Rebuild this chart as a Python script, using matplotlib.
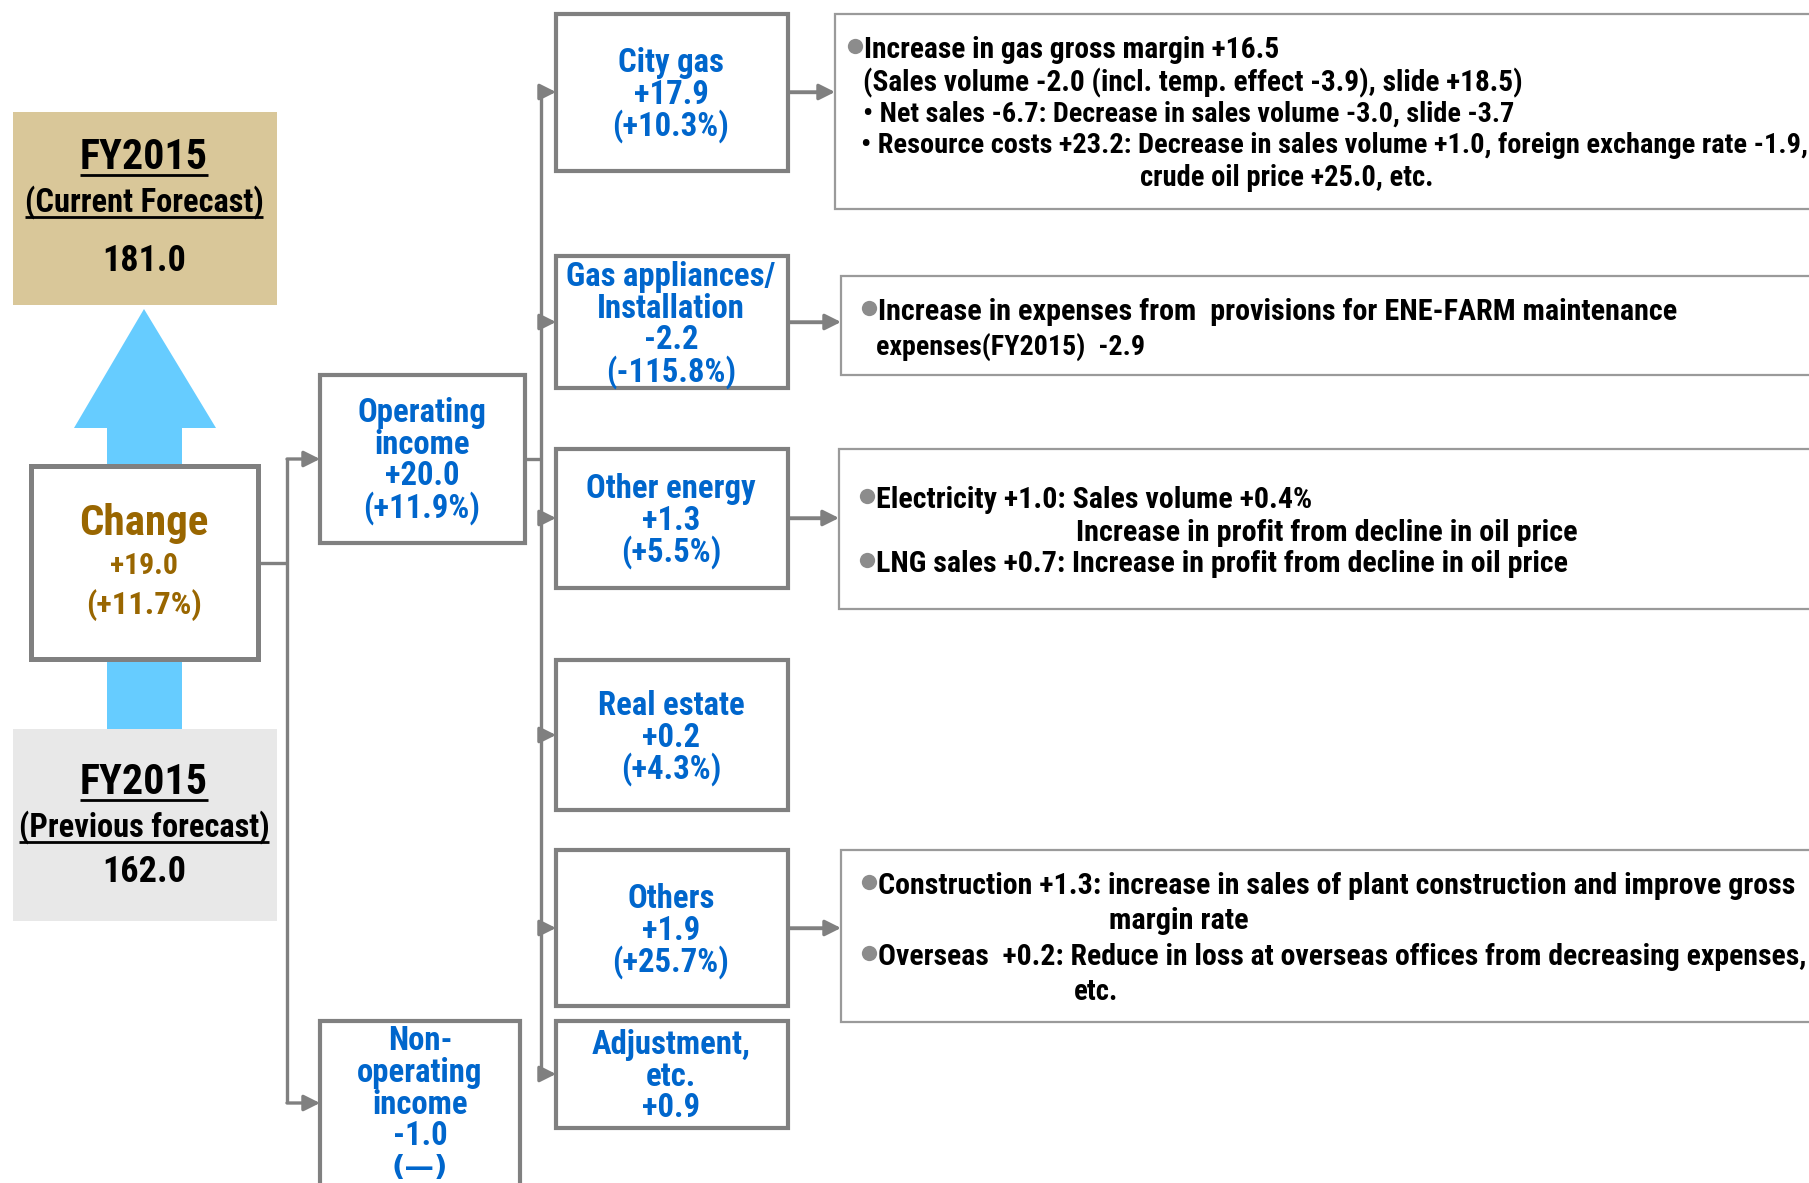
import matplotlib
matplotlib.use('Agg')
import matplotlib.pyplot as plt
from matplotlib import font_manager as fm
from matplotlib.patches import Rectangle, Polygon

avail = {f.name for f in fm.fontManager.ttflist}
FONT = next((n for n in ['Liberation Sans Narrow', 'Roboto Condensed', 'Open Sans Condensed',
                         'Noto Sans Condensed', 'Lato'] if n in avail), 'DejaVu Sans')

# ---------------- data ----------------
current_title = "FY2015"
current_sub = "(Current Forecast)"
current_value = "181.0"
previous_title = "FY2015"
previous_sub = "(Previous forecast)"
previous_value = "162.0"
change_title = "Change"
change_value = "+19.0"
change_pct = "(+11.7%)"

op_income_lines = ["Operating", "income", "+20.0", "(+11.9%)"]
nonop_lines = ["Non-", "operating", "income", "-1.0", "(\u2014)"]

segment_names = [["City gas"], ["Gas appliances/", "Installation"], ["Other energy"],
                 ["Real estate"], ["Others"], ["Adjustment,", "etc."]]
segment_values = ["+17.9", "-2.2", "+1.3", "+0.2", "+1.9", "+0.9"]
segment_pcts = ["(+10.3%)", "(-115.8%)", "(+5.5%)", "(+4.3%)", "(+25.7%)", None]

comments_city_gas = [
    "Increase in gas gross margin +16.5",
    "(Sales volume -2.0 (incl. temp. effect -3.9), slide +18.5)",
    "\u2022 Net sales -6.7: Decrease in sales volume -3.0, slide -3.7",
    "\u2022 Resource costs +23.2: Decrease in sales volume +1.0, foreign exchange rate -1.9,",
    "crude oil price +25.0, etc.",
]
comments_appliances = [
    "Increase in expenses from  provisions for ENE-FARM maintenance",
    "expenses(FY2015)  -2.9",
]
comments_other_energy = [
    "Electricity +1.0: Sales volume +0.4%",
    "Increase in profit from decline in oil price",
    "LNG sales +0.7: Increase in profit from decline in oil price",
]
comments_others = [
    "Construction +1.3: increase in sales of plant construction and improve gross",
    "margin rate",
    "Overseas  +0.2: Reduce in loss at overseas offices from decreasing expenses,",
    "etc.",
]

# ---------------- layout ----------------
W, H = 1809, 1183
BLUE = '#0066CC'
BROWN = '#996600'
GRAY = '#808080'
LGRAY = '#9A9A9A'
DY = 2.5  # vertical text offset

fig = plt.figure(figsize=(W / 100, H / 100), dpi=100)
ax = fig.add_axes([0, 0, 1, 1])
ax.set_xlim(0, W)
ax.set_ylim(H, 0)
ax.axis('off')
fig.canvas.draw()
R = fig.canvas.get_renderer()


def fit_size(s, target, family=None):
    t = ax.text(0, 0, s, fontsize=20, fontweight='bold', family=family or FONT)
    w = t.get_window_extent(renderer=R).width
    t.remove()
    return 20 * target / w


def txt(x, y, s, size, color='black', ha='center', underline=None, family=None):
    y = y + DY
    t = ax.text(x, y, s, fontsize=size, fontweight='bold', family=family or FONT, color=color,
                ha=ha, va='center', zorder=10)
    if underline is not None:
        bb = t.get_window_extent(renderer=R)
        inv = ax.transData.inverted()
        x0 = inv.transform((bb.x0, bb.y0))[0]
        x1 = inv.transform((bb.x1, bb.y0))[0]
        ax.plot([x0, x1], [y + underline, y + underline], color=color, lw=2, zorder=10,
                solid_capstyle='butt')
    return t


def box(x0, y0, x1, y1, lw=3, ec=GRAY, fc='white', z=5):
    ax.add_patch(Rectangle((x0, y0), x1 - x0, y1 - y0, lw=lw, ec=ec, fc=fc, zorder=z,
                           joinstyle='miter'))


def line(xs, ys, lw=2.4, color=GRAY):
    ax.plot(xs, ys, color=color, lw=lw, zorder=3, solid_capstyle='butt')


def arrow(x0, y, x1, lw=2.4, color=GRAY, ms=24):
    ax.annotate('', xy=(x1, y), xytext=(x0, y),
                arrowprops=dict(arrowstyle='-|>', color=color, lw=lw, mutation_scale=ms,
                                shrinkA=0, shrinkB=0), zorder=4)


# font sizes fitted to reference widths
fs_fy = fit_size("FY2015", 128)
fs_sub = fit_size("(Current Forecast)", 239)
fs_num = fit_size("181.0", 84)
fs_change = fit_size("Change", 129)
fs_chval = fit_size("+19.0", 68)
fs_chpct = fit_size("(+11.7%)", 116)
fs_seg = fit_size("Gas appliances/", 209)

# ---- left column ----
box(13, 112, 277, 305, lw=0, ec='none', fc='#D9C799', z=2)
box(13, 729, 277, 921, lw=0, ec='none', fc='#E8E8E8', z=2)
ax.add_patch(Polygon([(107, 729), (107, 428), (74, 428), (144, 309), (216, 428),
                      (182, 428), (182, 729)], closed=True, fc='#66CCFF', ec='none', zorder=1))
box(31, 466, 258, 659, lw=3.6)

cx = 144
txt(cx, 155, current_title, fs_fy, underline=17)
txt(cx, 200, current_sub, fs_sub, underline=14)
txt(cx, 258, current_value, fs_num)
txt(cx, 521, change_title, fs_change, color=BROWN)
txt(cx, 563, change_value, fs_chval, color=BROWN)
txt(cx, 603, change_pct, fs_chpct, color=BROWN)
txt(cx, 780, previous_title, fs_fy, underline=17)
txt(cx, 825, previous_sub, fs_sub, underline=14)
txt(cx, 869, previous_value, fs_num)

# ---- connectors from change ----
line([258, 287], [563, 563])
line([287, 287], [459, 1103])
arrow(287, 459, 320)
arrow(287, 1103, 320)

LS = 31.6  # line spacing


def block(xc, yc, lines, size, color, families=None):
    n = len(lines)
    for i, s in enumerate(lines):
        fam = families[i] if families else None
        sz = size if fam is None else size * 0.9
        txt(xc, yc + (i - (n - 1) / 2) * LS, s, sz, color=color, family=fam)


# ---- operating / non-operating ----
box(320, 375, 525, 543)
block(422, 458, op_income_lines, fs_seg, BLUE)
box(320, 1021, 520, 1240)
block(420, 1102, nonop_lines, fs_seg, BLUE,
      families=[None, None, None, None, 'DejaVu Sans'])

# ---- segments ----
seg_y = [(14, 171), (256, 388), (449, 588), (660, 810), (850, 1006), (1021, 1128)]
seg_mid = [92, 322, 518, 735, 928, 1074]
line([525, 541], [459, 459])
line([541, 541], [seg_mid[0], seg_mid[-1]])
for i, (y0, y1) in enumerate(seg_y):
    box(556, y0, 788, y1)
    arrow(541, seg_mid[i], 556)
    lines = list(segment_names[i]) + [segment_values[i]]
    if segment_pcts[i]:
        lines.append(segment_pcts[i])
    block(671, seg_mid[i], lines, fs_seg, BLUE)

# ---- comment boxes ----
comment_boxes = {0: (835, 14, 209), 1: (841, 276, 375), 2: (839, 449, 609), 4: (841, 850, 1022)}
for i, (x0, y0, y1) in comment_boxes.items():
    box(x0, y0, W + 20, y1, lw=1.6, ec=LGRAY, z=2)
    line([788, x0 - 14], [seg_mid[i], seg_mid[i]])
    arrow(788, seg_mid[i], x0)

# (x, y, bullet, reference width in px)
comment_layout = [
    (comments_city_gas, [(864, 47, True, 414), (863, 80, False, 661), (863, 112, False, 649),
                         (861, 143, False, 942), (1140, 175, False, 292)]),
    (comments_appliances, [(878, 309, True, 798), (876, 344, False, 268)]),
    (comments_other_energy, [(876, 497, True, 435), (1076, 530, False, 500),
                             (876, 561, True, 691)]),
    (comments_others, [(878, 883, True, 919), (1109, 918, False, 142),
                       (878, 954, True, 925), (1074, 989, False, 44)]),
]
base = fit_size(comments_city_gas[3], 942)
for texts, pos in comment_layout:
    for s, (x, y, bullet, tw) in zip(texts, pos):
        fs = fit_size(s, tw)
        fs = min(max(fs, base * 0.97), base * 1.07)
        txt(x, y, s, fs, ha='left')
        if bullet:
            ax.plot([x - 9], [y - 1.5], marker='o', ms=11, color='#8C8C8C', mec='none', zorder=10)

fig.savefig('out.png', dpi=100)
